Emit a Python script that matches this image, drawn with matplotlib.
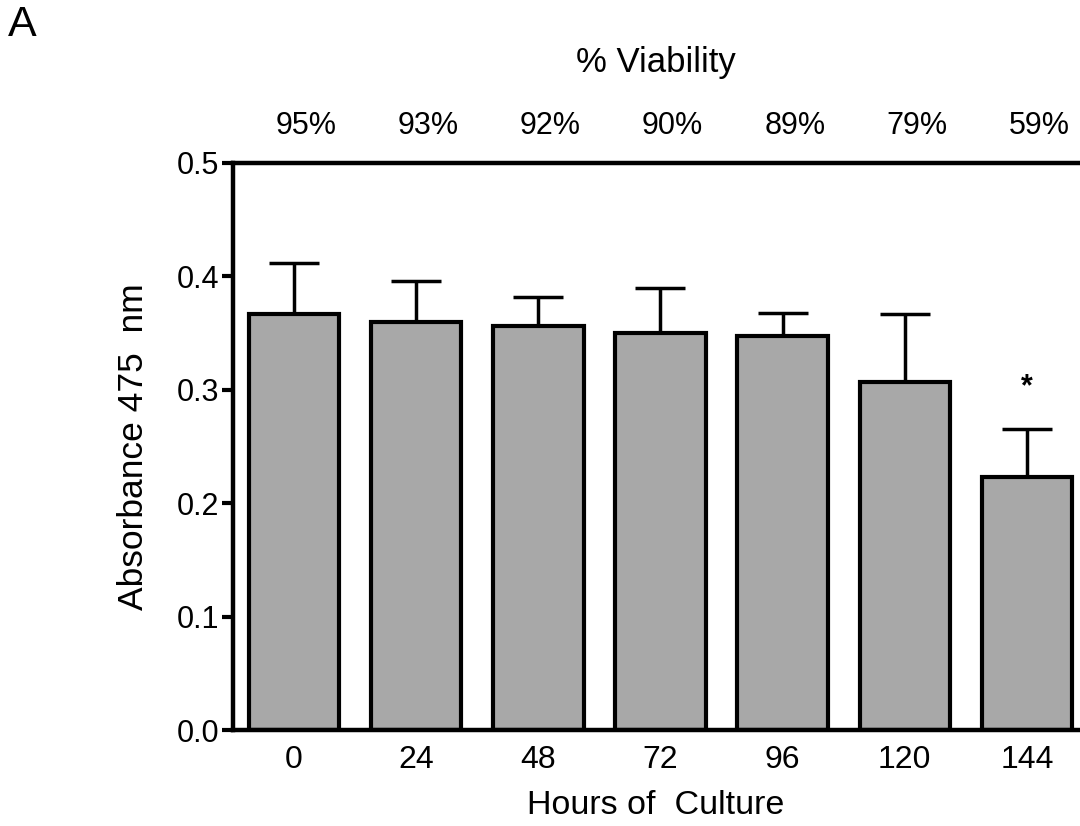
import matplotlib.pyplot as plt
import numpy as np

plt.rcParams['font.family'] = ['Liberation Sans', 'DejaVu Sans']

# data
hours = ['0', '24', '48', '72', '96', '120', '144']
absorbance = [0.367, 0.360, 0.356, 0.350, 0.347, 0.307, 0.223]
sem = [0.045, 0.036, 0.026, 0.040, 0.021, 0.060, 0.042]
viability = ['95%', '93%', '92%', '90%', '89%', '79%', '59%']

fig = plt.figure(figsize=(10.8, 8.26), dpi=100)
ax = fig.add_axes([0.2157, 0.1162, 0.7917, 0.6865])

x = np.arange(len(hours))
ax.bar(x, absorbance, width=0.74, color='#a8a8a8', edgecolor='black',
       linewidth=3, zorder=2)
ax.errorbar(x, absorbance, yerr=[np.zeros(len(sem)), sem], fmt='none',
            ecolor='black', elinewidth=2.5, capsize=18, capthick=2.5, zorder=1)

ax.set_xlim(-0.5, 6.5)
ax.set_ylim(0, 0.5)
ax.set_yticks(np.arange(0, 0.51, 0.1))
ax.set_yticklabels(['0.0', '0.1', '0.2', '0.3', '0.4', '0.5'])
ax.set_xticks(x)
ax.set_xticklabels(hours)
ax.tick_params(axis='y', direction='out', length=8, width=3, labelsize=22, pad=2)
ax.tick_params(axis='x', length=0, labelsize=23, pad=11)

for s in ax.spines.values():
    s.set_linewidth(3.2)

ax.set_ylabel('Absorbance 475  nm', fontsize=25.5)
ax.yaxis.set_label_coords(-0.097, 0.5, transform=ax.transAxes)
ax.set_xlabel('Hours of  Culture', fontsize=24.5)
ax.xaxis.set_label_coords(0.494, -0.105, transform=ax.transAxes)

# viability percentages above each bar (sit slightly right of bar centres)
trans = ax.get_xaxis_transform()
for xi, v in zip(x, viability):
    ax.text(xi + 0.1, 1.066, v, transform=trans, ha='center', va='center',
            fontsize=22)
ax.text(0.495, 1.178, '% Viability', transform=ax.transAxes, ha='center',
        va='center', fontsize=25)

# significance marker
ax.text(x[-1], 0.302, '*', ha='center', va='center', fontsize=22, fontweight='bold')

fig.text(0.007, 0.97, 'A', fontsize=31, ha='left', va='center')

fig.savefig('out.png', dpi=100)
